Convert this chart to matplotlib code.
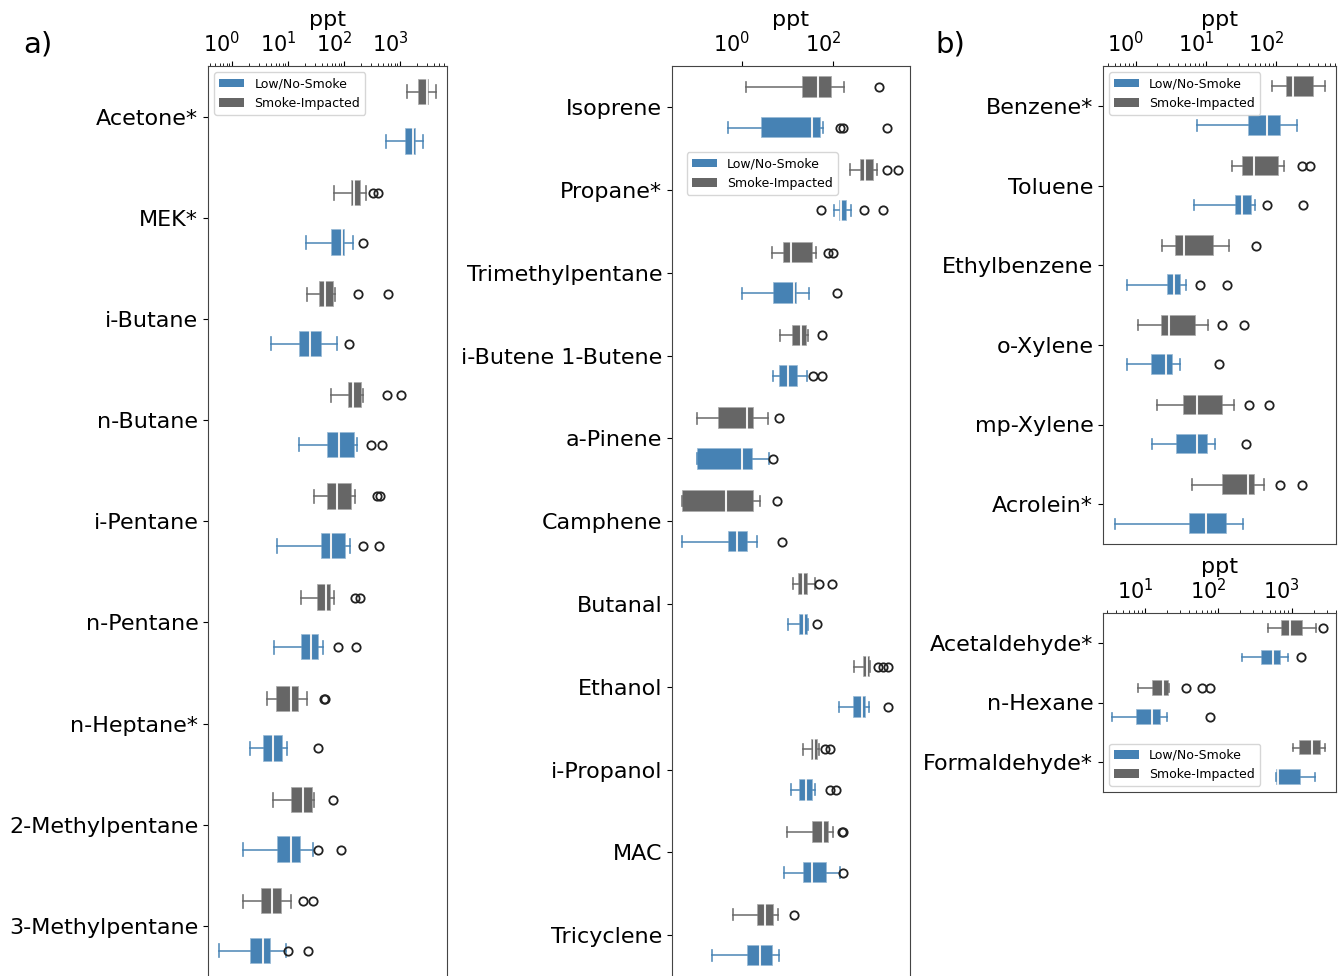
import numpy as np
import matplotlib
matplotlib.use('Agg')
import matplotlib.pyplot as plt
import matplotlib.transforms as mtransforms
from matplotlib.patches import Patch
from matplotlib.ticker import LogLocator, NullLocator, NullFormatter

BLUE = '#4682b4'
GRAY = '#666666'

# box stats per compound: (whisker low, q1, median, q3, whisker high), in ppt
a1_names = ['Acetone*', 'MEK*', 'i-Butane', 'n-Butane', 'i-Pentane', 'n-Pentane',
            'n-Heptane*', '2-Methylpentane', '3-Methylpentane']
a1_smoke = [(1320, 2120, 3000, 3340, 4400), (66, 132, 151, 201, 244),
            (21.6, 35.3, 45.8, 65.5, 69), (57.8, 116, 143, 207, 216),
            (28.8, 49.7, 76, 141, 157), (17.3, 33.4, 47.7, 57.8, 66),
            (4.16, 6.1, 11.2, 15.9, 22.1), (5.33, 11.3, 18.8, 28.3, 29.1),
            (1.59, 3.25, 5.24, 7.91, 11.2)]
a1_smoke_fl = [[], [326, 410], [180, 618], [579, 1030], [384, 439], [157, 193],
               [44, 45], [62.8], [18.8, 28.3]]
a1_low = [(562, 1213, 1729, 1906, 2543), (20.7, 57.8, 91, 105, 143),
          (4.97, 15.7, 24.7, 40, 74), (15.7, 49.7, 82.5, 157, 171),
          (6.44, 38.4, 58.6, 107, 126), (5.62, 17.1, 25.4, 36.2, 42.7),
          (2.1, 3.62, 5.33, 8.24, 9.72), (1.55, 6.36, 11.2, 17.1, 27.6),
          (0.593, 2.07, 3.62, 5.03, 9.1)]
a1_low_fl = [[], [221], [124], [303, 471], [221, 422], [79, 164], [33.9],
             [33.9, 88.4], [10.1, 22.5]]

a2_names = ['Isoprene', 'Propane*', 'Trimethylpentane', 'i-Butene 1-Butene',
            'a-Pinene', 'Camphene', 'Butanal', 'Ethanol', 'i-Propanol', 'MAC',
            'Tricyclene']
a2_smoke = [(1.22, 20.5, 46.1, 93.6, 175), (236, 392, 505, 796, 942),
            (4.49, 8.09, 11.9, 36.9, 41.6), (6.84, 12.4, 19.8, 27.2, 28.7),
            (0.101, 0.292, 1.27, 1.86, 3.78), (0.0487, 0.0487, 0.438, 1.86, 2.49),
            (13.4, 17.3, 22.2, 28.7, 40.2), (289, 463, 567, 650, 650),
            (21.6, 32.4, 38.2, 46.1, 49.2), (9.6, 35.1, 61.2, 83, 102),
            (0.644, 2.1, 3.2, 5.13, 6.09)]
a2_smoke_fl = [[1026], [1514, 2725], [78.8, 102], [58.2], [6.5], [5.79],
               [50, 96.5], [990, 1237, 1592], [66.7, 85.9], [155, 168], [14.1]]
a2_low = [(0.5, 2.62, 34.5, 54.5, 59.4), (107, 138, 150, 200, 249),
          (0.98, 4.88, 14.1, 15.9, 30.1), (4.72, 6.61, 10.4, 17.0, 26.8),
          (0.101, 0.101, 0.98, 1.77, 3.98), (0.049, 0.485, 0.765, 1.33, 2.17),
          (10.4, 17.9, 23.1, 28.7, 28.7), (135, 271, 427, 523, 628),
          (11.9, 18.2, 25.5, 36.9, 40.2), (8.51, 21.6, 34, 75, 143),
          (0.222, 1.31, 2.49, 4.72, 6.5)]
a2_low_fl = [[143, 168, 1514], [53.7, 480, 1237], [121], [36.9, 58.2], [4.72],
             [7.69], [43.8], [1592], [85.9, 116], [168], []]

b1_names = ['Benzene*', 'Toluene', 'Ethylbenzene', 'o-Xylene', 'mp-Xylene', 'Acrolein*']
b1_smoke = [(86.8, 138, 177, 349, 501), (23.5, 32.4, 48.5, 111, 130),
            (2.33, 3.61, 4.85, 13.1, 21.3), (1.08, 2.3, 2.96, 7.2, 10.6),
            (2.02, 4.65, 7.36, 17.3, 25.1), (6.24, 17.1, 40.2, 50.1, 68)]
b1_smoke_fl = [[], [233, 306], [51.3], [16.8, 34.9], [41.1, 80.2], [114, 233]]
b1_low = [(7.36, 39.4, 75.1, 117, 202), (6.8, 26, 32.4, 45, 50.1),
          (0.751, 2.74, 3.49, 4.39, 5.18), (0.751, 1.62, 2.66, 3.35, 4.25),
          (1.68, 3.73, 7.36, 10.8, 13.4), (0.5, 5.77, 10, 20.2, 33.4)]
b1_low_fl = [[], [75.1, 243], [8.21, 20], [15.3], [37.3], []]

b2_names = ['Acetaldehyde*', 'n-Hexane', 'Formaldehyde*']
b2_smoke = [(472, 710, 951, 1445, 2133), (7.95, 12.6, 17.8, 21.5, 21.5),
            (1035, 1262, 1880, 2495, 2856)]
b2_smoke_fl = [[2656], [35.9, 59.4, 77], []]
b2_low = [(208, 382, 562, 710, 902), (3.58, 7.54, 12.6, 16.4, 19.8),
          (618, 618, 659, 1331, 2084)]
b2_low_fl = [[1331], [77], []]


def make_stats(rows, fliers):
    out = []
    for (lo, q1, med, q3, hi), fl in zip(rows, fliers):
        out.append(dict(whislo=lo, q1=q1, med=med, q3=q3, whishi=hi, fliers=fl))
    return out


def draw_panel(ax, names, smoke, smoke_fl, low, low_fl, xlim, major, minor=True):
    n = len(names)
    pos = np.arange(n)
    for rows, fl, col, off in [(smoke, smoke_fl, GRAY, -0.245), (low, low_fl, BLUE, 0.245)]:
        ax.bxp(make_stats(rows, fl), positions=pos + off, widths=0.26,
               orientation='horizontal', patch_artist=True, manage_ticks=False,
               capwidths=0.13,
               boxprops=dict(facecolor=col, edgecolor=(1, 1, 1, 0.55), linewidth=1.2),
               medianprops=dict(color='#f2f2f2', linewidth=1.5),
               whiskerprops=dict(color=col, linewidth=1.2, alpha=0.9),
               capprops=dict(color=col, linewidth=1.2, alpha=0.9),
               flierprops=dict(marker='o', markerfacecolor='none',
                               markeredgecolor='#222222', markersize=6,
                               markeredgewidth=1.3))
    ax.set_xscale('log')
    ax.set_xlim(xlim)
    ax.set_ylim(n - 0.5, -0.5)
    ax.set_yticks(pos)
    ax.set_yticklabels(names, fontsize=16)
    ax.xaxis.tick_top()
    ax.xaxis.set_label_position('top')
    ax.set_xlabel('ppt', fontsize=16, labelpad=4)
    ax.set_xticks(major)
    ax.set_xticklabels([r'$10^{%d}$' % round(np.log10(m)) for m in major], fontsize=15)
    if minor:
        ax.xaxis.set_minor_locator(LogLocator(base=10, subs=np.arange(2, 10), numticks=30))
    else:
        ax.xaxis.set_minor_locator(NullLocator())
    ax.xaxis.set_minor_formatter(NullFormatter())
    for s in ax.spines.values():
        s.set_color('#444444')
    # shift the decade labels a little to the left of their ticks
    shift = mtransforms.ScaledTranslation(-0.1, 0, ax.figure.dpi_scale_trans)
    for t in ax.xaxis.get_major_ticks():
        t.label2.set_transform(t.label2.get_transform() + shift)


def add_legend(ax, **kw):
    handles = [Patch(facecolor=BLUE, label='Low/No-Smoke'),
               Patch(facecolor=GRAY, label='Smoke-Impacted')]
    ax.legend(handles=handles, fontsize=9, **kw)


fig = plt.figure(figsize=(13.41, 9.76), dpi=100)
W, H = 1341.0, 976.0

ax1 = fig.add_axes([208 / W, -0.5 / H, 239 / W, 910.5 / H])
ax2 = fig.add_axes([672 / W, -0.5 / H, 238 / W, 910.5 / H])
ax3 = fig.add_axes([1103 / W, (H - 544) / H, 233 / W, 478 / H])
ax4 = fig.add_axes([1103 / W, (H - 792) / H, 233 / W, 179 / H])

draw_panel(ax1, a1_names, a1_smoke, a1_smoke_fl, a1_low, a1_low_fl,
           (0.373, 6900), [1, 10, 100, 1000])
draw_panel(ax2, a2_names, a2_smoke, a2_smoke_fl, a2_low, a2_low_fl,
           (0.029, 4920), [1, 100], minor=False)
draw_panel(ax3, b1_names, b1_smoke, b1_smoke_fl, b1_low, b1_low_fl,
           (0.338, 720), [1, 10, 100])
draw_panel(ax4, b2_names, b2_smoke, b2_smoke_fl, b2_low, b2_low_fl,
           (2.67, 4036), [10, 100, 1000])

add_legend(ax1, loc='upper left')
add_legend(ax2, loc='upper left', bbox_to_anchor=(0.063, 0.905), borderaxespad=0)
add_legend(ax3, loc='upper left')
add_legend(ax4, loc='lower left')

fig.text(23 / W, 1 - 44 / H, 'a)', fontsize=21, va='center', ha='left')
fig.text(935 / W, 1 - 44 / H, 'b)', fontsize=21, va='center', ha='left')

fig.savefig('out.png', dpi=100)
